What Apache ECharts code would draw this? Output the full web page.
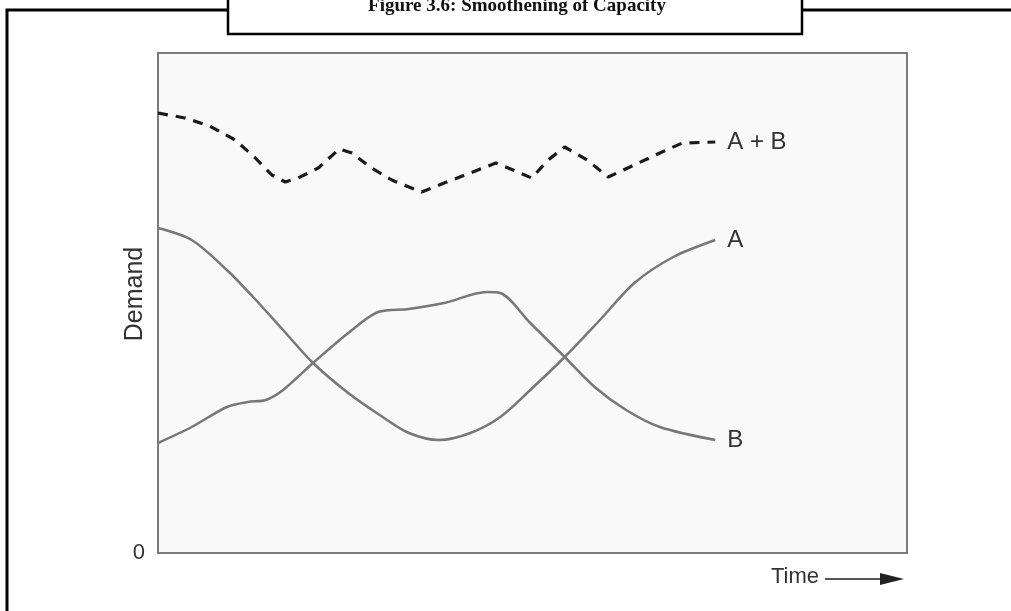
<!DOCTYPE html>
<html>
<head>
<meta charset="utf-8">
<title>Figure 3.6: Smoothening of Capacity</title>
<script src="https://cdn.jsdelivr.net/npm/echarts@6/dist/echarts.min.js"></script>
<style>
    html, body { margin: 0; padding: 0; background: #fff; }
    #chart { width: 1011px; height: 611px; }
</style>
</head>
<body>
<div id="chart"></div>
<script>
    // time (0-100 across the plot), demand (0-100 up the plot)
    const TIME_SUM = [0, 3.6, 6.9, 10.3, 13.0, 15.2, 17.0, 18.7, 21.4, 24.2, 25.9, 28.3, 31.2, 35.2, 38.2, 41.7, 45.1, 47.4, 49.9, 52.1, 54.3, 57.3, 60.1, 63.0, 67.0, 70.0, 74.4]
    const DEMAND_SUM = [88, 87, 85.4, 82.6, 79, 75.6, 74.2, 75, 77, 80.8, 80, 77.2, 74.6, 72.2, 74, 76, 78, 76.6, 75, 78.6, 81.2, 78.6, 75.2, 77.2, 80, 82, 82.2]

    // A starts high, dips in the middle, ends high
    const TIME_A = [0, 4.5, 9.2, 12.7, 16.7, 20.7, 25.4, 30.0, 33.5, 37.5, 41.7, 45.7, 49.7, 54.3, 59.0, 63.6, 68.8, 74.4]
    const DEMAND_A = [65, 62.6, 56.6, 51.2, 44.6, 38, 32, 27.2, 24, 22.6, 24, 27.2, 32.6, 39.2, 46.6, 54, 59.2, 62.6]

    // B starts low, peaks in the middle, ends low
    const TIME_B = [0, 4.5, 9.2, 12.0, 14.4, 16.7, 20.7, 25.4, 29.4, 33.5, 38.2, 43.9, 45.7, 49.7, 54.3, 58.3, 62.5, 67.0, 74.4]
    const DEMAND_B = [22, 25.2, 29.2, 30.2, 30.6, 32.6, 38, 44, 48.2, 48.8, 50, 52.2, 52, 46, 39.2, 33.2, 28.6, 25.2, 22.6]

    const Y_TICKS = [0]

    function pairs (xs, ys) {
        let out = []
        for (let i = 0; i < xs.length; i++) {
            out.push([xs[i], ys[i]])
        }
        return out
    }

    const sansFont = 'Liberation Sans, Arial, sans-serif'
    const labelStyle = {
        show: true,
        formatter: '{a}',
        distance: 12,
        fontFamily: sansFont,
        fontSize: 24,
        color: '#333'
    }

    const chart = echarts.init(document.getElementById('chart'))
    chart.setOption({
        animation: false,
        backgroundColor: '#fff',
        grid: {
            left: 158,
            right: 104,
            top: 53,
            bottom: 58,
            show: true,
            backgroundColor: '#f9f9f9',
            borderColor: '#7a7a7a',
            borderWidth: 2
        },
        xAxis: {
            type: 'value',
            min: 0,
            max: 100,
            axisLine: { show: false },
            axisTick: { show: false },
            axisLabel: { show: false },
            splitLine: { show: false }
        },
        yAxis: {
            type: 'value',
            min: 0,
            max: 100,
            interval: 100,
            name: 'Demand',
            nameLocation: 'middle',
            nameRotate: 90,
            nameGap: 10,
            nameMoveOverlap: false,
            nameTextStyle: {
                fontFamily: sansFont,
                fontSize: 25,
                color: '#333',
                padding: [0, 0, 0, 18]
            },
            axisLine: { show: false },
            axisTick: { show: false },
            splitLine: { show: false },
            axisLabel: {
                margin: 13,
                fontFamily: sansFont,
                fontSize: 22,
                color: '#333',
                formatter: function (v) {
                    return Y_TICKS.indexOf(v) >= 0 ? String(v) : ''
                }
            }
        },
        series: [
            {
                name: 'A + B',
                type: 'line',
                data: pairs(TIME_SUM, DEMAND_SUM),
                showSymbol: false,
                smooth: false,
                lineStyle: { color: '#1a1a1a', width: 3.2, type: [10, 8] },
                endLabel: labelStyle
            },
            {
                name: 'A',
                type: 'line',
                data: pairs(TIME_A, DEMAND_A),
                showSymbol: false,
                smooth: 0.3,
                lineStyle: { color: '#777', width: 2.5 },
                endLabel: labelStyle
            },
            {
                name: 'B',
                type: 'line',
                data: pairs(TIME_B, DEMAND_B),
                showSymbol: false,
                smooth: 0.3,
                lineStyle: { color: '#777', width: 2.5 },
                endLabel: labelStyle
            }
        ],
        graphic: [
            // outer frame around the figure
            {
                type: 'polyline',
                shape: { points: [[228, 10], [7, 10], [7, 620]] },
                style: { stroke: '#000', lineWidth: 3, fill: null }
            },
            {
                type: 'polyline',
                shape: { points: [[802, 10], [1020, 10]] },
                style: { stroke: '#000', lineWidth: 3, fill: null }
            },
            // title box, text runs off the top edge like the scan
            {
                type: 'polyline',
                shape: { points: [[228, -5], [228, 34], [802, 34], [802, -5]] },
                style: { stroke: '#000', lineWidth: 2.5, fill: null }
            },
            {
                type: 'text',
                x: 517,
                y: 16,
                style: {
                    text: 'Figure 3.6: Smoothening of Capacity',
                    font: 'bold 19px Liberation Serif, Times New Roman, serif',
                    fill: '#111',
                    textAlign: 'center',
                    textVerticalAlign: 'bottom'
                }
            },
            // time label with arrow
            {
                type: 'text',
                left: 771,
                top: 566,
                style: {
                    text: 'Time',
                    font: '22px Liberation Sans, Arial, sans-serif',
                    fill: '#333'
                }
            },
            {
                type: 'line',
                shape: { x1: 825, y1: 579, x2: 888, y2: 579 },
                style: { stroke: '#555', lineWidth: 2 }
            },
            {
                type: 'polygon',
                shape: { points: [[880, 573], [904, 579], [880, 585]] },
                style: { fill: '#222' }
            }
        ]
    })
</script>
</body>
</html>
